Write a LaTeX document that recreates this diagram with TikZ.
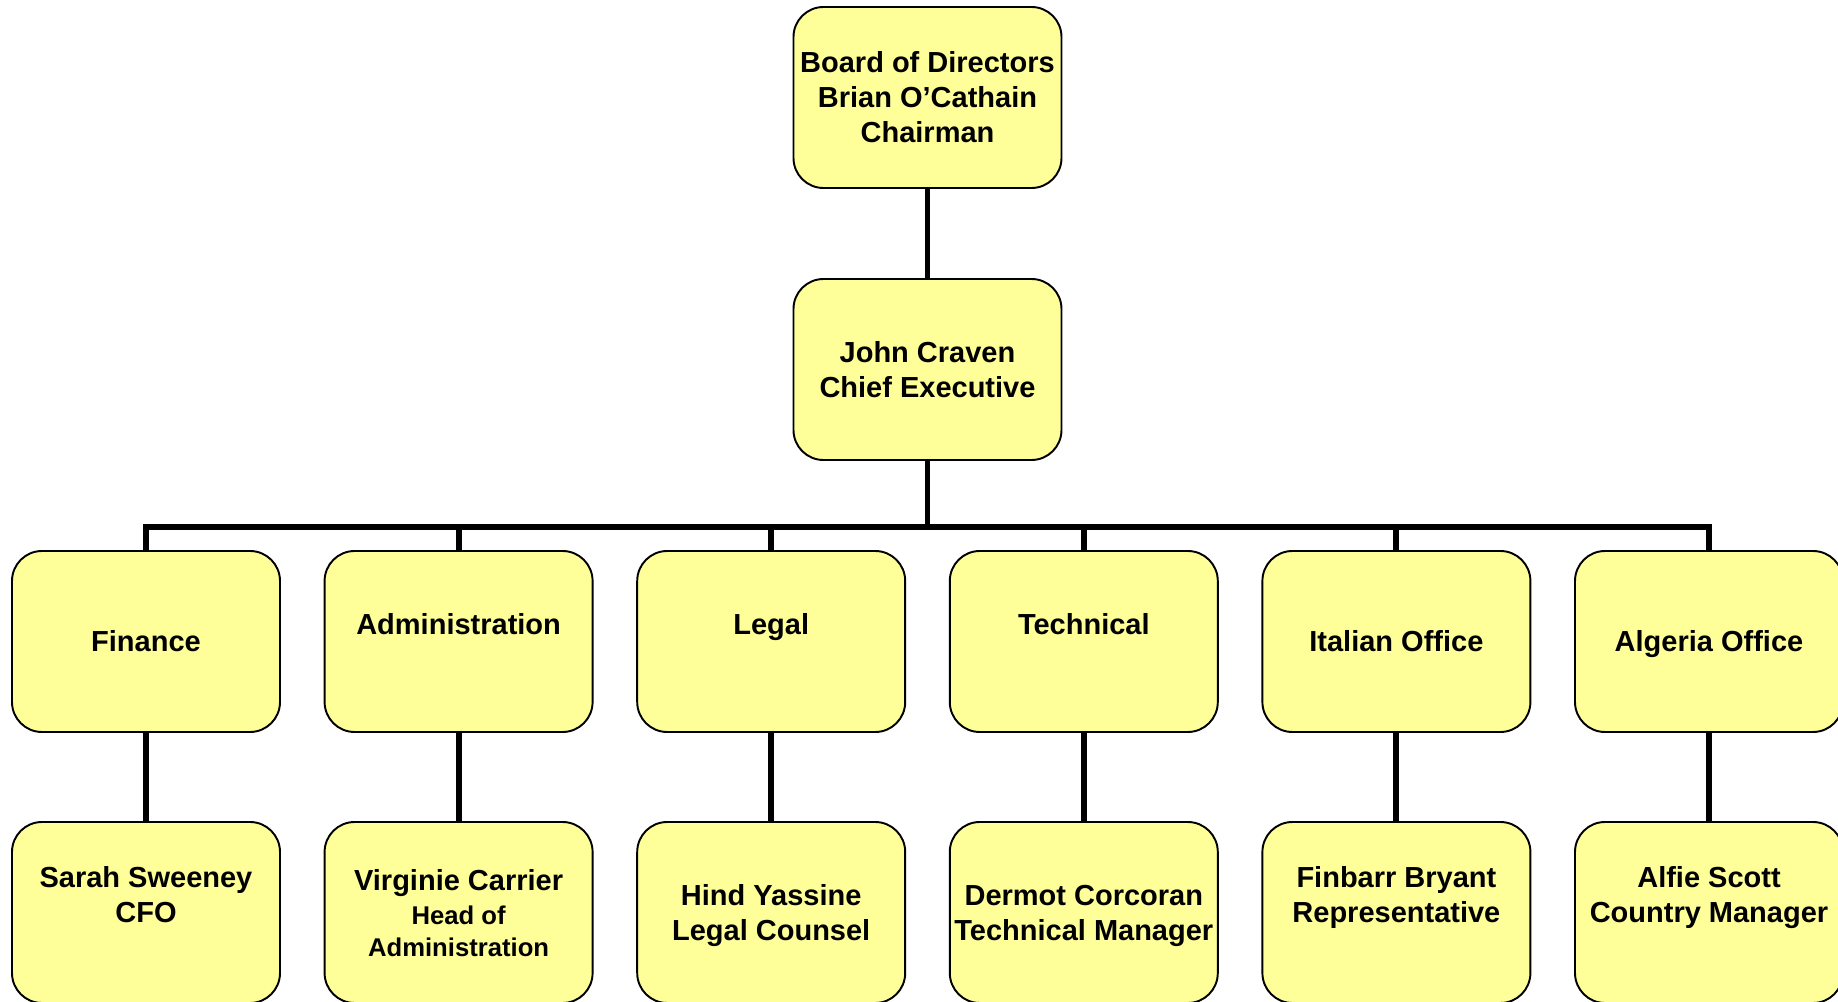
\documentclass[tikz,border=0pt]{standalone}
\usepackage{fontspec}
\setmainfont{Liberation Sans}
\usepackage{tikz}
\pgfdeclarelayer{nodelayer}
\pgfdeclarelayer{edgelayer}
\pgfsetlayers{edgelayer,nodelayer,main}
\definecolor{boxyellow}{RGB}{255,255,153}
\tikzstyle{post}=[fill=boxyellow, draw=black, line width=0.55pt, shape=rectangle, rounded corners=0.3cm, minimum width=2.68cm, minimum height=1.81cm, inner sep=0pt, align=center, font=\fontsize{8.25}{9.96}\selectfont\bfseries]
\tikzstyle{link}=[-, line width=1.7pt]
% every line gets the same box, so blank lines count too
\newcommand{\lstrut}{\vrule width 0pt height \dimexpr0.5\baselineskip+0.358em\relax depth \dimexpr0.5\baselineskip-0.358em\relax}
\newcommand{\smalltitle}{\fontsize{7.3}{8.9}\selectfont}

\begin{document}
\begin{tikzpicture}
	\useasboundingbox (0,0) rectangle (18.38,10.01);
	\begin{pgfonlayer}{nodelayer}
		\node [style=post] (0) at (9.275, 9.035) {\lstrut Board of Directors\\\lstrut Brian O'Cathain\\\lstrut Chairman};
		\node [style=post] (1) at (9.275, 6.315) {\lstrut John Craven\\\lstrut Chief Executive};
		\node [style=post] (2) at (1.46, 3.595) {\lstrut Finance};
		\node [style=post] (3) at (4.586, 3.595) {\lstrut Administration\\\lstrut};
		\node [style=post] (4) at (7.712, 3.595) {\lstrut Legal\\\lstrut};
		\node [style=post] (5) at (10.838, 3.595) {\lstrut Technical\\\lstrut};
		\node [style=post] (6) at (13.964, 3.595) {\lstrut Italian Office};
		\node [style=post] (7) at (17.09, 3.595) {\lstrut Algeria Office};
		\node [style=post] (8) at (1.46, 0.885) {\lstrut Sarah Sweeney\\\lstrut CFO\\\lstrut};
		\node [style=post] (9) at (4.586, 0.885) {\lstrut Virginie Carrier\\[-0.3pt]\smalltitle\lstrut Head of\\[-0.96pt]\smalltitle\lstrut Administration};
		\node [style=post] (10) at (7.712, 0.885) {\lstrut Hind Yassine\\\lstrut Legal Counsel};
		\node [style=post] (11) at (10.838, 0.885) {\lstrut Dermot Corcoran\\\lstrut Technical Manager};
		\node [style=post] (12) at (13.964, 0.885) {\lstrut Finbarr Bryant\\\lstrut Representative\\\lstrut};
		\node [style=post] (13) at (17.09, 0.885) {\lstrut Alfie Scott\\\lstrut Country Manager\\\lstrut};
		\coordinate (14) at (9.275, 4.74);
	\end{pgfonlayer}
	\begin{pgfonlayer}{edgelayer}
		\draw [style=link] (0) to (1);
		\draw [style=link] (1.south) to (14);
		\draw [style=link] (14) -| (2.north);
		\draw [style=link] (14) -| (3.north);
		\draw [style=link] (14) -| (4.north);
		\draw [style=link] (14) -| (5.north);
		\draw [style=link] (14) -| (6.north);
		\draw [style=link] (14) -| (7.north);
		\draw [style=link] (2) to (8);
		\draw [style=link] (3) to (9);
		\draw [style=link] (4) to (10);
		\draw [style=link] (5) to (11);
		\draw [style=link] (6) to (12);
		\draw [style=link] (7) to (13);
	\end{pgfonlayer}
\end{tikzpicture}
\end{document}
